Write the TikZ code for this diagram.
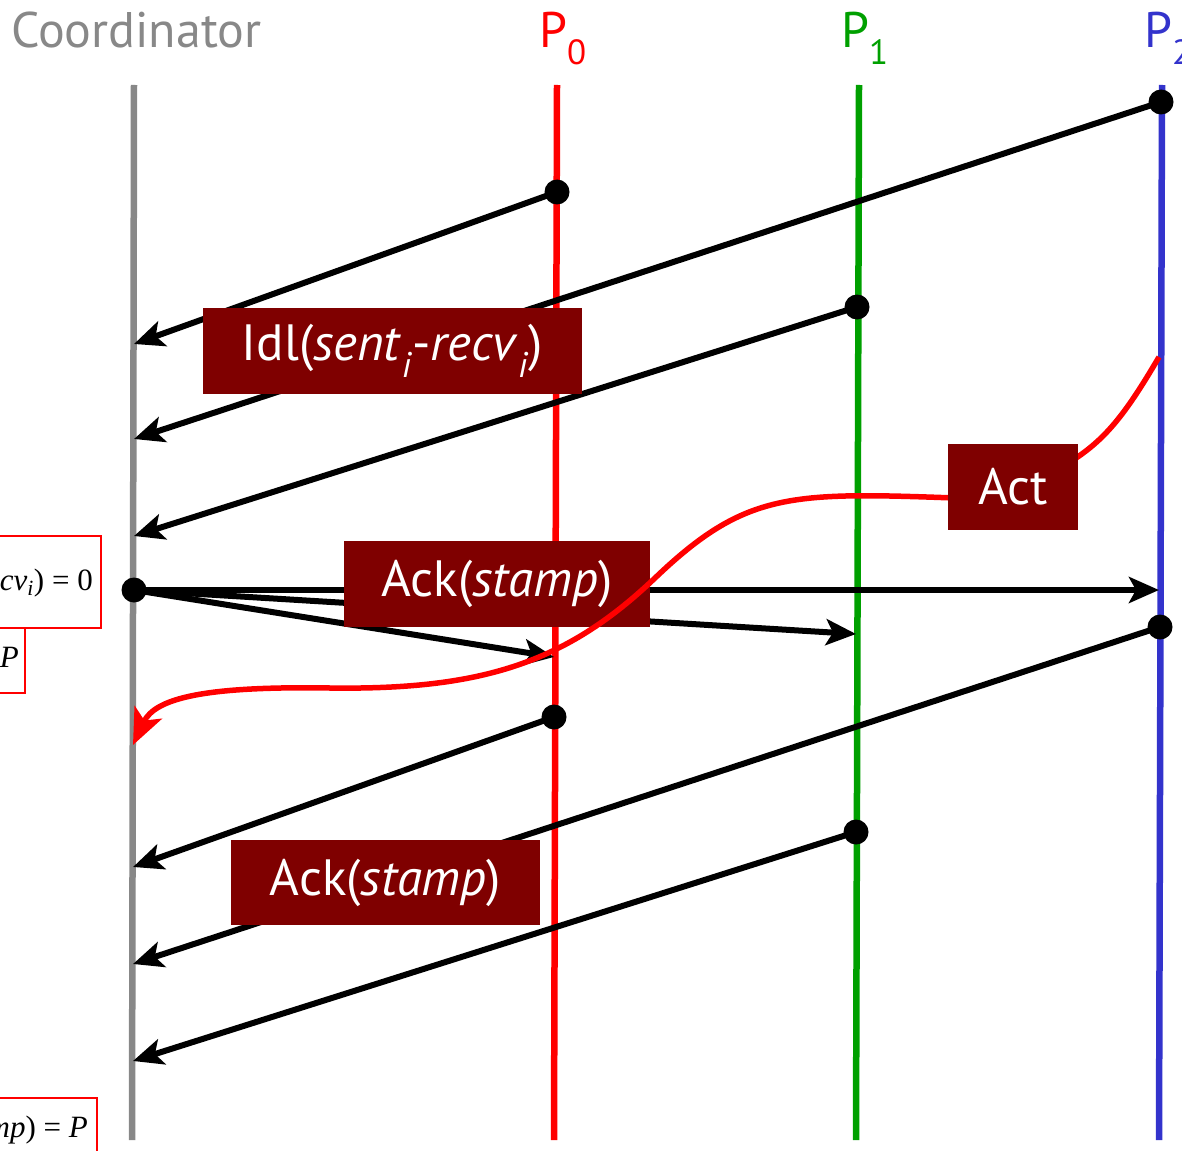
\documentclass[tikz,border=0pt]{standalone}
\usepackage{fontspec}
\setmainfont{PT Sans}
\newfontfamily\condfont{Liberation Serif}
\usetikzlibrary{arrows.meta}
\definecolor{boxred}{HTML}{7F0000}
\definecolor{coordgray}{HTML}{888888}
\definecolor{pzero}{HTML}{FF0000}
\definecolor{pone}{HTML}{00A000}
\definecolor{ptwo}{HTML}{3333CC}
\tikzset{
  lifeline/.style={line width=6.5pt},
  msg/.style={line width=6pt, -{Stealth[length=30pt,width=26pt,inset=7pt]}},
  dot/.style={circle, fill=black, minimum size=25pt, inner sep=0pt},
  label/.style={font=\fontsize{50}{54}\selectfont, inner sep=0pt},
  msgbox/.style={fill=boxred, text=white, inner sep=0pt, font=\fontsize{51}{55}\selectfont},
  condbox/.style={draw=red, line width=1.5pt},
  condtext/.style={font=\condfont\fontsize{31}{34}\selectfont, inner sep=0pt, anchor=base east},
}
\begin{document}
\begin{tikzpicture}[x=1pt,y=-1pt]
\clip (0,0) rectangle (1182,1150);
\fill[white] (0,0) rectangle (1182,1150);
% headings
\node[label, text=coordgray, anchor=base west] (tcoord) at (11,48) {Coordinator};
\node[label, text=pzero, anchor=base west] (tp0) at (539,48) {P\textsubscript{0}};
\node[label, text=pone, anchor=base west] (tp1) at (841,48) {P\textsubscript{1}};
\node[label, text=ptwo, anchor=base west] (tp2) at (1144,48) {P\textsubscript{2}};
% lifelines
\coordinate (ct) at (134,85); \coordinate (cb) at (132,1140);
\coordinate (p0t) at (557,85); \coordinate (p0b) at (554,1140);
\coordinate (p1t) at (859,85); \coordinate (p1b) at (856,1140);
\coordinate (p2t) at (1162,85); \coordinate (p2b) at (1159,1140);
\draw[lifeline, coordgray] (ct) -- (cb);
\draw[lifeline, pzero] (p0t) -- (p0b);
\draw[lifeline, pone] (p1t) -- (p1b);
\draw[lifeline, ptwo] (p2t) -- (p2b);
% condition boxes (left, cropped)
\draw[condbox] (-5,536) rectangle (101,628);
\draw[condbox] (-5,628) rectangle (25,693);
\draw[condbox] (-5,1098) rectangle (97,1160);
\node[condtext] (cond1) at (93,590) {\itshape cv\textsubscript{i}\upshape) = 0};
\node[condtext] (cond2) at (19,667) {\itshape P};
\node[condtext] (cond3) at (88,1137) {\itshape mp\upshape) = \itshape P};
% dots
\node[dot] (a2) at (1161,102) {};
\node[dot] (a0) at (557,192) {};
\node[dot] (a1) at (857,307) {};
\node[dot] (bc) at (134,590) {};
\node[dot] (b2) at (1160,627) {};
\node[dot] (b0) at (554,717) {};
\node[dot] (b1) at (856,832) {};
% arrow ends
\coordinate (ea0) at (134,344);
\coordinate (ea2) at (134,439);
\coordinate (ea1) at (134,536);
\coordinate (eb0) at (133,867);
\coordinate (eb2) at (133,964);
\coordinate (eb1) at (133,1061);
\coordinate (q2) at (1159,590);
\coordinate (q1) at (856,634);
\coordinate (q0) at (554,657);
% messages
\draw[msg] (a0.center) -- (ea0);
\draw[msg] (a2.center) -- (ea2);
\draw[msg] (a1.center) -- (ea1);
\draw[msg] (bc.center) -- (q2);
\draw[msg] (bc.center) -- (q1);
\draw[msg] (bc.center) -- (q0);
\draw[msg] (b0.center) -- (eb0);
\draw[msg] (b2.center) -- (eb2);
\draw[msg] (b1.center) -- (eb1);
% boxes
\node[msgbox, minimum width=379pt, minimum height=86pt] (idl) at (392.5,351) {Idl(\textit{sent}\textsubscript{\textit{i}}-\textit{recv}\textsubscript{\textit{i}})};
\node[msgbox, minimum width=306pt, minimum height=86pt] (ack1) at (497,584) {Ack(\textit{stamp})};
\node[msgbox, minimum width=309pt, minimum height=85pt] (ack2) at (385.5,882.5) {Ack(\textit{stamp})};
% red curve
\coordinate (r0) at (1159,357);
\coordinate (tip) at (133,745);
\draw[red, line width=5.5pt] (r0) .. controls (1125,415) and (1105,440) .. (1070,462);
\draw[red, line width=5.5pt, -{Stealth[length=36pt,width=30pt,inset=9pt]}]
  (955,498) .. controls (790,492) and (745,492) .. (655,578)
  .. controls (565,664) and (480,690) .. (330,688)
  .. controls (205,686) and (155,698) .. (tip);
\node[msgbox, minimum width=130pt, minimum height=86pt] (act) at (1013,487) {Act};
\end{tikzpicture}
\end{document}
